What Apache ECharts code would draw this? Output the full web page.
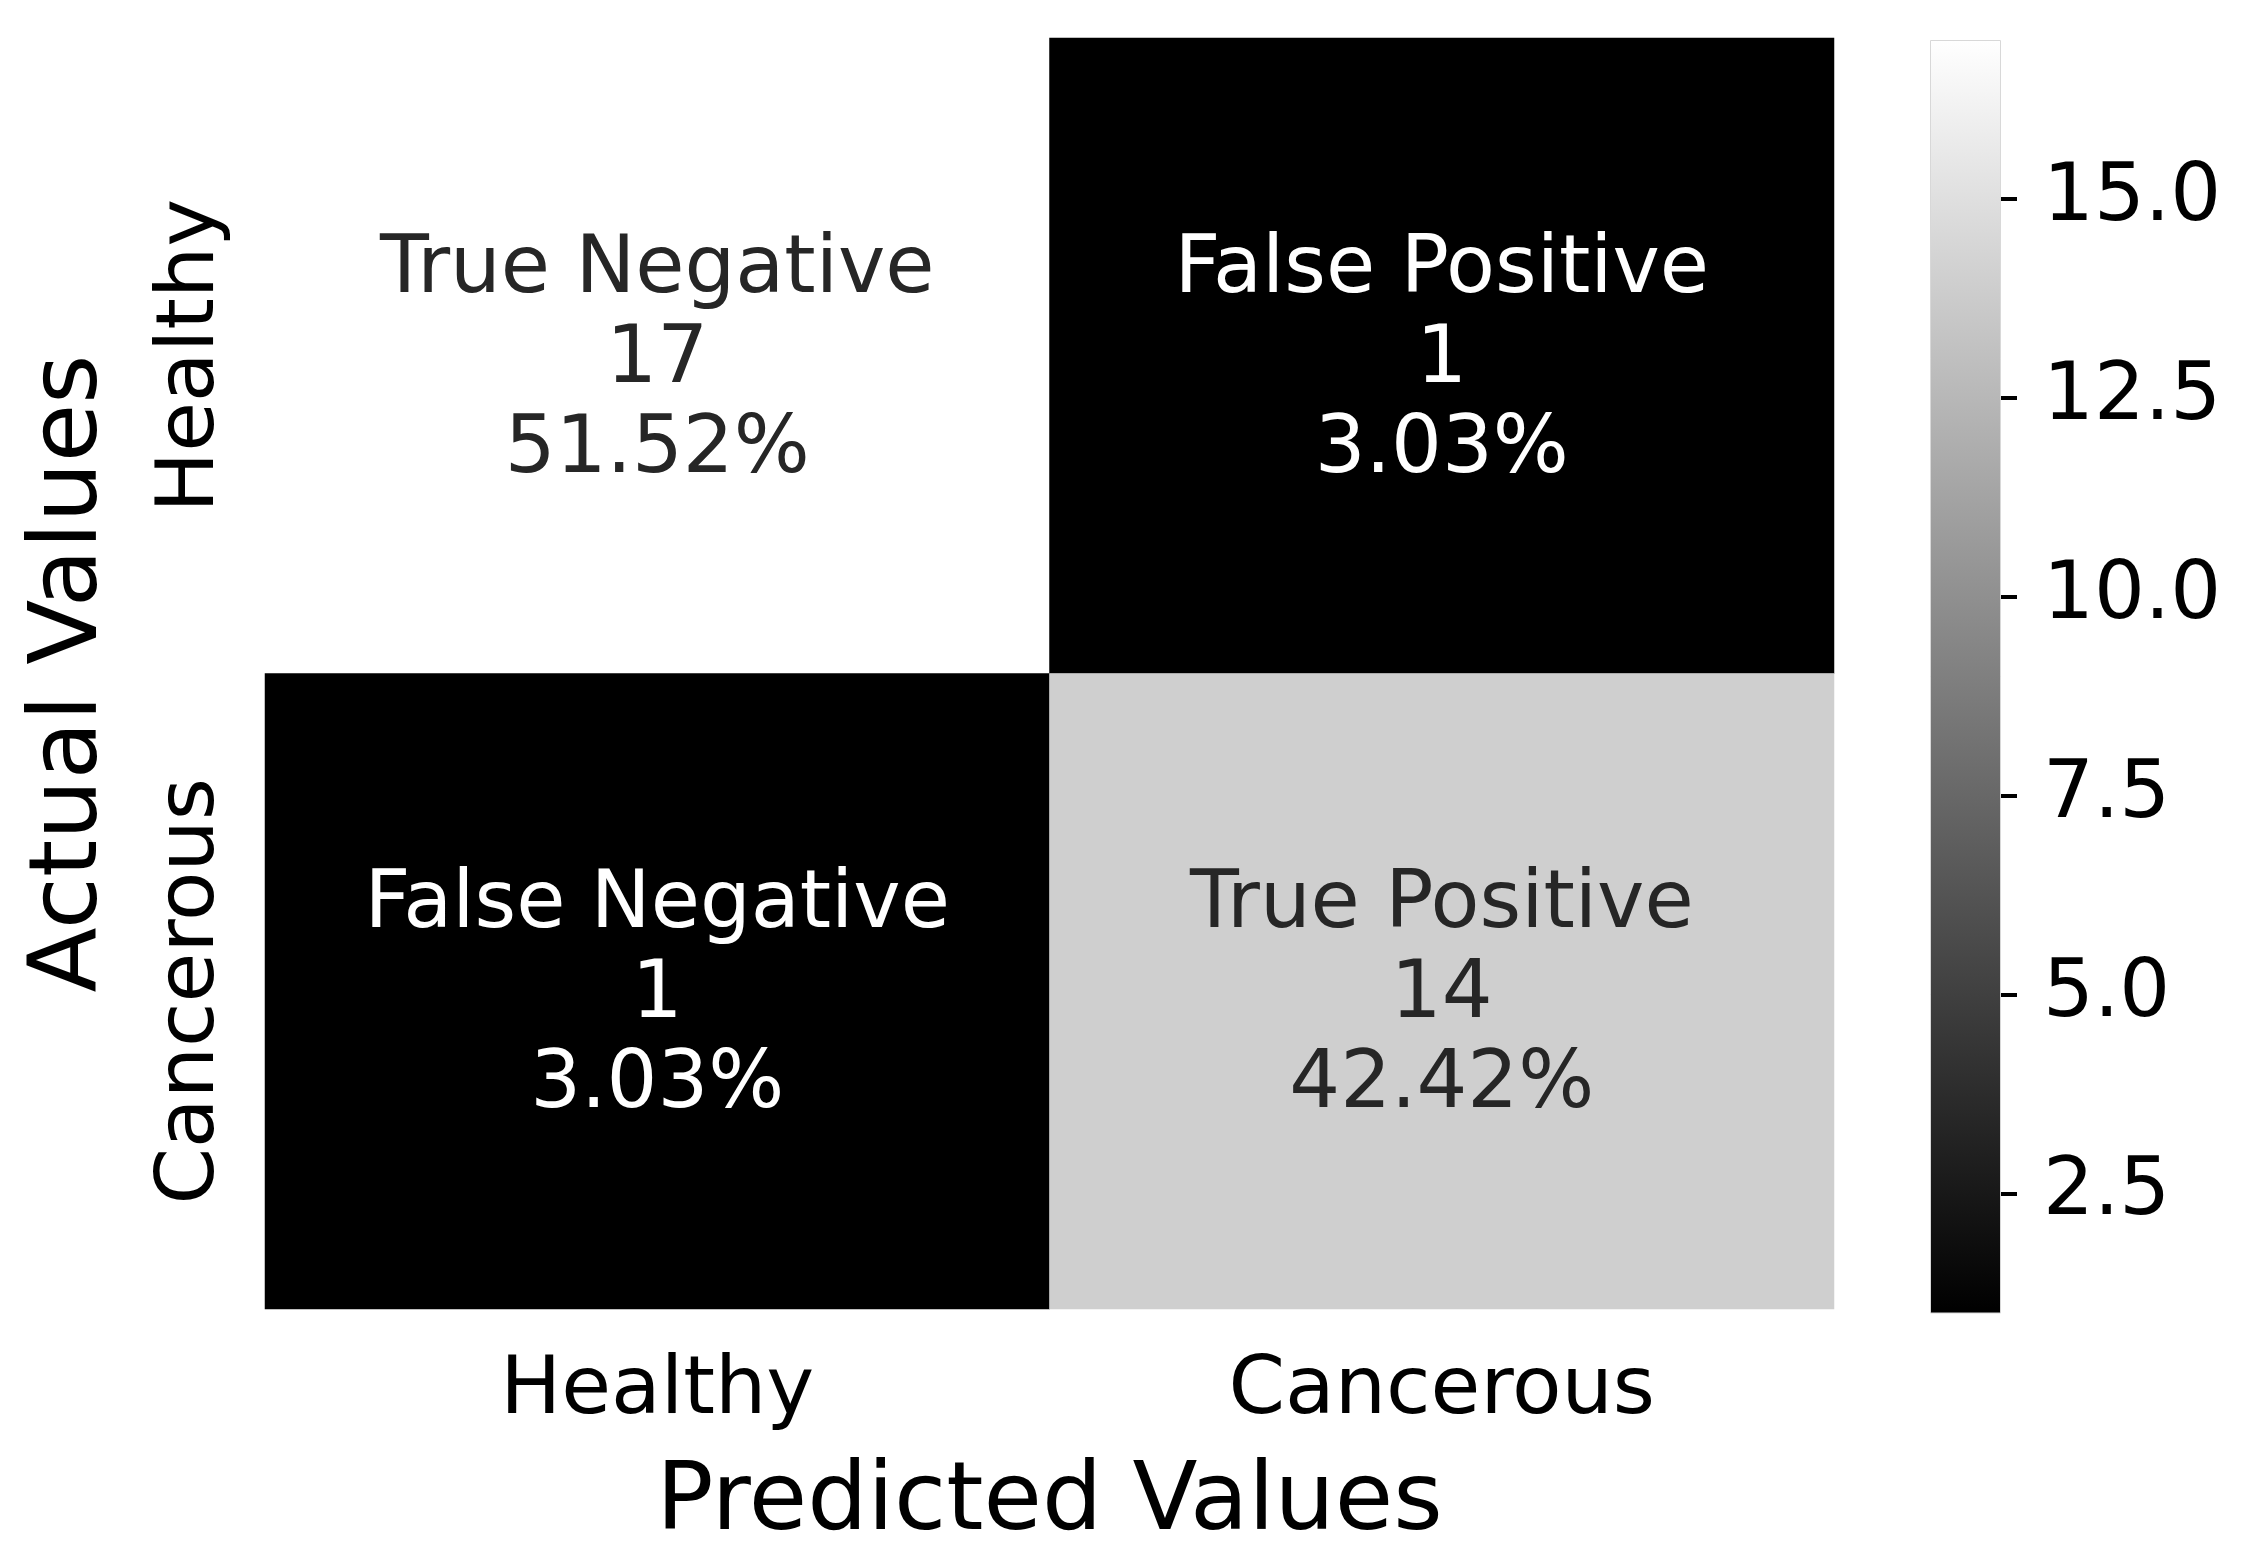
<!DOCTYPE html>
<html>
<head>
<meta charset="utf-8">
<script src="https://cdn.jsdelivr.net/npm/echarts@6/dist/echarts.min.js"></script>
<style>
  html, body { margin: 0; padding: 0; background: #fff; }
  #main { width: 2251px; height: 1557px; }
</style>
</head>
<body>
<div id="main"></div>
<script>
// categories
const predictedLabels = ["Healthy", "Cancerous"];
const actualLabels = ["Healthy", "Cancerous"];
// rows = actual, cols = predicted
const counts = [
  [17, 1],
  [1, 14],
];
const cellNames = [
  ["True Negative", "False Positive"],
  ["False Negative", "True Positive"],
];
const colorbarTicks = [2.5, 5.0, 7.5, 10.0, 12.5, 15.0];

const FONT = "DejaVu Sans";
const total = counts.flat().reduce((a, b) => a + b, 0);
const vMin = Math.min(...counts.flat());
const vMax = Math.max(...counts.flat());

const heatData = [];
counts.forEach((row, r) => {
  row.forEach((v, c) => {
    const t = (v - vMin) / (vMax - vMin);
    heatData.push({
      value: [c, r, v],
      label: { color: t > 0.5 ? "#262626" : "#ffffff" },
      name: cellNames[r][c],
    });
  });
});

const chart = echarts.init(document.getElementById("main"));
chart.setOption({
  backgroundColor: "#ffffff",
  animation: false,
  grid: [
    { left: 265, right: 417, top: 38, bottom: 244 },
    { left: 1930, width: 71, top: 40, bottom: 244 },
  ],
  xAxis: [
    {
      gridIndex: 0,
      type: "category",
      data: predictedLabels,
      axisLine: { show: false },
      axisTick: { show: false },
      splitLine: { show: false },
      axisLabel: { fontFamily: FONT, fontSize: 81, color: "#000", margin: 42 },
      name: "Predicted Values",
      nameLocation: "middle",
      nameGap: 148,
      nameTextStyle: { fontFamily: FONT, fontSize: 95, color: "#000" },
    },
    {
      gridIndex: 1,
      type: "category",
      data: ["cb"],
      show: false,
    },
  ],
  yAxis: [
    {
      gridIndex: 0,
      type: "category",
      data: actualLabels,
      inverse: true,
      axisLine: { show: false },
      axisTick: { show: false },
      splitLine: { show: false },
      axisLabel: {
        fontFamily: FONT, fontSize: 81, color: "#000", margin: 33,
        rotate: 90, align: "center", verticalAlign: "bottom",
      },
      name: "Actual Values",
      nameLocation: "middle",
      nameRotate: 90,
      nameGap: 146,
      nameTextStyle: { fontFamily: FONT, fontSize: 95, color: "#000" },
    },
    {
      gridIndex: 1,
      type: "value",
      position: "right",
      min: vMin,
      max: vMax,
      axisLine: { show: false },
      splitLine: { show: false },
      axisTick: { show: true, customValues: colorbarTicks, length: 16, lineStyle: { color: "#000", width: 4 } },
      axisLabel: {
        customValues: colorbarTicks,
        fontFamily: FONT, fontSize: 80, color: "#000", margin: 42,
        formatter: (v) => v.toFixed(1),
      },
    },
  ],
  visualMap: {
    show: false,
    seriesIndex: 0,
    min: vMin,
    max: vMax,
    inRange: { color: ["#000000", "#ffffff"] },
  },
  series: [
    {
      type: "heatmap",
      xAxisIndex: 0,
      yAxisIndex: 0,
      data: heatData,
      label: {
        show: true,
        fontFamily: FONT,
        fontSize: 80,
        lineHeight: 90,
        offset: [0, 5],
        formatter: (p) =>
          p.name + "\n" + p.value[2] + "\n" + ((p.value[2] / total) * 100).toFixed(2) + "%",
      },
    },
    {
      type: "bar",
      xAxisIndex: 1,
      yAxisIndex: 1,
      data: [vMax],
      barWidth: "100%",
      silent: true,
      itemStyle: {
        borderColor: "#d8d8d8",
        borderWidth: 1,
        color: new echarts.graphic.LinearGradient(0, 0, 0, 1, [
          { offset: 0, color: "#ffffff" },
          { offset: 1, color: "#000000" },
        ]),
      },
    },
  ],
});
</script>
</body>
</html>
